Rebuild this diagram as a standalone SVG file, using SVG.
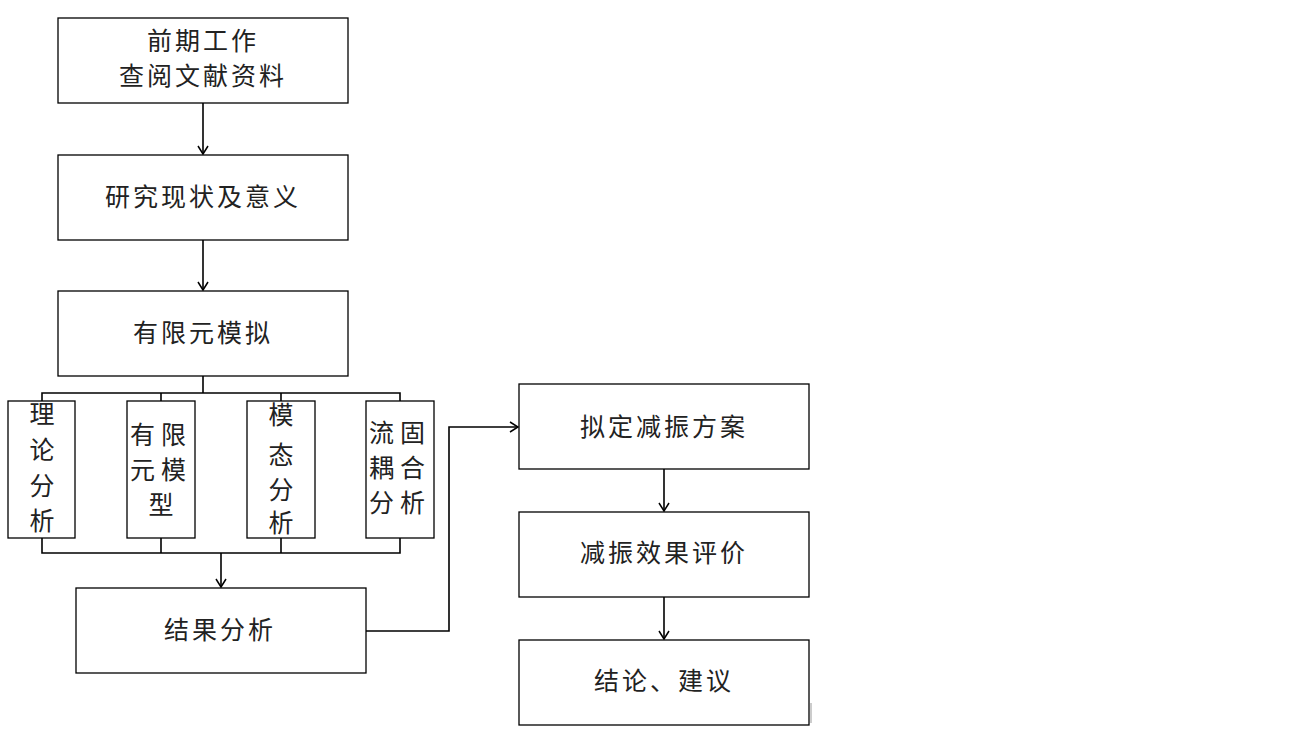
<svg xmlns="http://www.w3.org/2000/svg" width="1304" height="732" viewBox="0 0 1304 732">
<style>
.box{fill:#fff;stroke:#000;stroke-width:1.3}
.t{font-family:"Noto Sans CJK SC","Noto Sans",sans-serif;font-size:25px;fill:#222;text-anchor:middle;letter-spacing:3px}
.tv{font-family:"Noto Sans CJK SC","Noto Sans",sans-serif;font-size:25px;fill:#222;text-anchor:middle}
.ln{fill:none;stroke:#000;stroke-width:1.6}
</style>
<defs>
<marker id="ar" markerWidth="12" markerHeight="12" refX="10" refY="6" orient="auto" markerUnits="userSpaceOnUse">
<path d="M2,1 L10,6 L2,11" fill="none" stroke="#000" stroke-width="1.5"/>
</marker>
</defs>
<rect width="1304" height="732" fill="#fff"/>
<g id="connectors">
<path class="ln" d="M203,103 V154" marker-end="url(#ar)"/>
<path class="ln" d="M203,240 V290" marker-end="url(#ar)"/>
<path class="ln" d="M203,376 V393 M42,401 V393 H400 V401 M161,393 V401 M281,393 V401"/>
<path class="ln" d="M42,538 V553 H400 V538 M161,538 V553 M281,538 V553"/>
<path class="ln" d="M221,553 V587" marker-end="url(#ar)"/>
<path class="ln" d="M366,631 H449 V427 H518" marker-end="url(#ar)"/>
<path class="ln" d="M664,469 V511" marker-end="url(#ar)"/>
<path class="ln" d="M664,597 V639" marker-end="url(#ar)"/>
<path d="M811,703 V723" stroke="#999" stroke-width="1"/>
</g>
<g id="n1"><rect class="box" x="58" y="18" width="290" height="85"/>
<text class="t" x="203" y="50" font-size="24">前期工作</text><text class="t" x="203" y="85" font-size="24">查阅文献资料</text></g>
<g id="n2"><rect class="box" x="58" y="155" width="290" height="85"/>
<text class="t" x="203" y="206">研究现状及意义</text></g>
<g id="n3"><rect class="box" x="58" y="291" width="290" height="85"/>
<text class="t" x="203" y="342">有限元模拟</text></g>
<g id="n4"><rect class="box" x="8" y="401" width="67" height="137"/>
<text class="tv" x="42" y="423">理</text><text class="tv" x="42" y="459">论</text><text class="tv" x="42" y="495">分</text><text class="tv" x="42" y="530">析</text></g>
<g id="n5"><rect class="box" x="127" y="401" width="68" height="137"/>
<text class="tv" x="161" y="444" letter-spacing="6">有限</text><text class="tv" x="161" y="479" letter-spacing="6">元模</text><text class="tv" x="161" y="514">型</text></g>
<g id="n6"><rect class="box" x="247" y="401" width="68" height="137"/>
<text class="tv" x="281" y="424">模</text><text class="tv" x="281" y="464">态</text><text class="tv" x="281" y="499">分</text><text class="tv" x="281" y="532">析</text></g>
<g id="n7"><rect class="box" x="366" y="401" width="68" height="137"/>
<text class="tv" x="400" y="442" letter-spacing="6">流固</text><text class="tv" x="400" y="477" letter-spacing="6">耦合</text><text class="tv" x="400" y="512" letter-spacing="6">分析</text></g>
<g id="n8"><rect class="box" x="76" y="588" width="290" height="85"/>
<text class="t" x="220" y="639">结果分析</text></g>
<g id="n9"><rect class="box" x="519" y="384" width="290" height="85"/>
<text class="t" x="664" y="436">拟定减振方案</text></g>
<g id="n10"><rect class="box" x="519" y="512" width="290" height="85"/>
<text class="t" x="664" y="562">减振效果评价</text></g>
<g id="n11"><rect class="box" x="519" y="640" width="290" height="85"/>
<text class="t" x="664" y="690">结论、建议</text></g>
</svg>
